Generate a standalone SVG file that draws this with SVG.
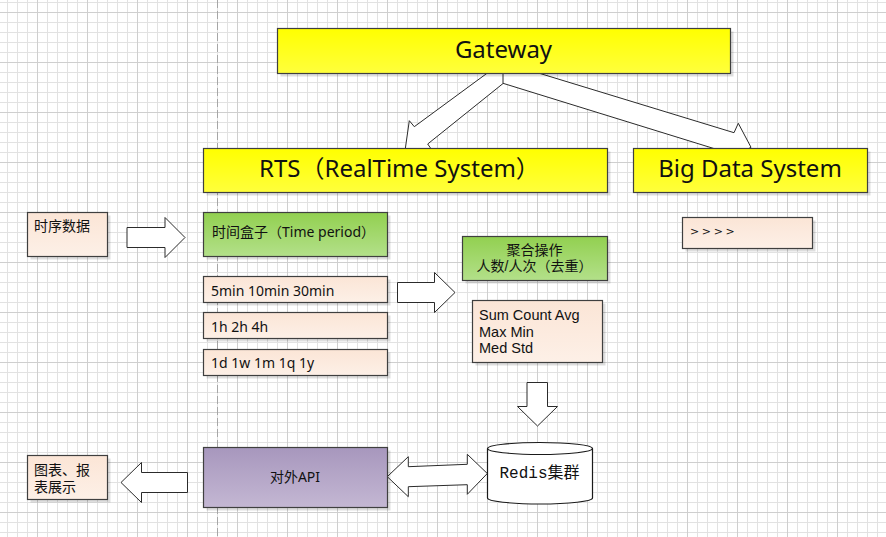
<svg xmlns="http://www.w3.org/2000/svg" width="886" height="537" viewBox="0 0 886 537">
<defs>
<pattern id="minor" x="7" y="2" width="10" height="10" patternUnits="userSpaceOnUse">
<path d="M0.5 0V10M0 0.5H10" stroke="#e2e2e2" stroke-width="1" fill="none"/>
</pattern>
<pattern id="major" x="37" y="12" width="50" height="50" patternUnits="userSpaceOnUse">
<path d="M0.5 0V50M0 0.5H50" stroke="#cfcfcf" stroke-width="1" fill="none"/>
</pattern>
<linearGradient id="gYellow" x1="0" y1="0" x2="0" y2="1"><stop offset="0" stop-color="#ffff00"/><stop offset="1" stop-color="#ffff3c"/></linearGradient>
<linearGradient id="gPeach" x1="0" y1="0" x2="0" y2="1"><stop offset="0" stop-color="#fbe5d6"/><stop offset="1" stop-color="#fdf0e7"/></linearGradient>
<linearGradient id="gGreen" x1="0" y1="0" x2="0" y2="1"><stop offset="0" stop-color="#92d050"/><stop offset="1" stop-color="#b3e08a"/></linearGradient>
<linearGradient id="gPurple" x1="0" y1="0" x2="0" y2="1"><stop offset="0" stop-color="#a797bd"/><stop offset="1" stop-color="#c4b7d3"/></linearGradient>
</defs>
<style>
.box{stroke:#3f3f3f;stroke-width:1.2}
.sh{fill:#000;opacity:0.13}
.y{fill:url(#gYellow)}
.p{fill:url(#gPeach)}
.g{fill:url(#gGreen)}
.v{fill:url(#gPurple)}
.arr{fill:#fff;stroke:#2b2b2b;stroke-width:1;stroke-linejoin:miter}
text{font-family:"Noto Sans","Noto Sans CJK SC",sans-serif;fill:#111}
.big{font-size:24px}
.s{font-size:14px}
.tight{font-family:"Liberation Sans","Noto Sans CJK SC",sans-serif}
</style>
<rect width="886" height="537" fill="#fff"/>
<rect width="886" height="537" fill="url(#minor)"/>
<rect width="886" height="537" fill="url(#major)"/>
<line x1="217.5" y1="0" x2="217.5" y2="537" stroke="#a6a6a6" stroke-width="1" stroke-dasharray="8 3"/>

<g id="connectors">
<polygon class="arr" points="505,60 486.7,73.5 414.3,126.7 409.3,120.7 405.3,148.7 433.3,152 427.7,144 503.3,83.3 520,70"/>
<polygon class="arr" points="503,62.2 734,132.7 738.3,123.3 751,147.3 726.7,160.7 729.3,153.3 503,83.3"/>
<polygon class="arr" points="127,227.5 165,227.5 165,217.5 185,237.5 165,257.5 165,247.5 127,247.5"/>
<polygon class="arr" points="397.5,282.5 434.5,282.5 434.5,272.5 455,292.5 434.5,312.5 434.5,302.5 397.5,302.5"/>
<polygon class="arr" points="527,382.5 547.5,382.5 547.5,406.5 557.5,406.5 537.5,426 517.5,406.5 527,406.5"/>
<polygon class="arr" points="121,482.5 141.5,462.5 141.5,472.5 187.5,472.5 187.5,492.5 141.5,492.5 141.5,502.5"/>
<polygon class="arr" points="387.3,476.7 408.3,456.7 408.3,466.7 467.3,464.3 467.3,454.3 487.3,473.5 467.3,494.3 467.3,484.7 408.3,486.7 408.3,496.7"/>
</g>

<g id="gateway">
<rect class="sh" x="280.5" y="31.5" width="453" height="45"/>
<rect class="box y" x="277.5" y="28.5" width="453" height="45"/>
<text class="big" x="503.5" y="58" text-anchor="middle">Gateway</text>
</g>

<g id="rts">
<rect class="sh" x="206.5" y="151.5" width="404" height="44"/>
<rect class="box y" x="203.5" y="148.5" width="404" height="44"/>
<text class="big" x="259" y="177">RTS（RealTime System）</text>
</g>

<g id="bigdata">
<rect class="sh" x="636.5" y="151.5" width="234" height="44"/>
<rect class="box y" x="633.5" y="148.5" width="234" height="44"/>
<text class="big" x="750" y="177" text-anchor="middle">Big Data System</text>
</g>

<g id="more">
<rect class="sh" x="685.5" y="220.5" width="130" height="31"/>
<rect class="box p" x="682.5" y="217.5" width="130" height="31"/>
<text x="690" y="235" style="font-family:'DejaVu Sans',sans-serif;font-size:11px" letter-spacing="2.6">&gt;&gt;&gt;&gt;</text>
</g>

<g id="tsdata">
<rect class="sh" x="30.5" y="215.5" width="80" height="44"/>
<rect class="box p" x="27.5" y="212.5" width="80" height="44"/>
<text class="s" x="34" y="231">时序数据</text>
</g>

<g id="timebox">
<rect class="sh" x="206.5" y="215.5" width="184" height="44"/>
<rect class="box g" x="203.5" y="212.5" width="184" height="44"/>
<text class="s" x="212" y="237">时间盒子（Time period）</text>
</g>

<g id="p1">
<rect class="sh" x="206.5" y="279.5" width="184" height="26"/>
<rect class="box p" x="203.5" y="276.5" width="184" height="26"/>
<text class="s" x="211" y="295.5">5min 10min 30min</text>
</g>

<g id="p2">
<rect class="sh" x="206.5" y="315.5" width="184" height="26"/>
<rect class="box p" x="203.5" y="312.5" width="184" height="26"/>
<text class="s" x="211" y="331.5">1h 2h 4h</text>
</g>

<g id="p3">
<rect class="sh" x="206.5" y="352.5" width="184" height="26"/>
<rect class="box p" x="203.5" y="349.5" width="184" height="26"/>
<text class="s" x="211" y="368">1d 1w 1m 1q 1y</text>
</g>

<g id="agg">
<rect class="sh" x="465.5" y="239.5" width="145" height="44"/>
<rect class="box g" x="462.5" y="236.5" width="145" height="44"/>
<text class="s tight" x="534.5" y="254.5" text-anchor="middle">聚合操作</text>
<text class="s tight" x="534.5" y="271" text-anchor="middle">人数/人次（去重）</text>
</g>

<g id="funcs">
<rect class="sh" x="475.5" y="303.5" width="130" height="62"/>
<rect class="box p" x="472.5" y="300.5" width="130" height="62"/>
<text class="s tight" x="479" y="320" style="font-size:14.5px">Sum Count Avg</text>
<text class="s tight" x="479" y="336.7" style="font-size:14.5px">Max Min</text>
<text class="s tight" x="479" y="353.3" style="font-size:14.5px">Med Std</text>
</g>

<g id="redis">
<path d="M487.5 448.5A52.5 6 0 0 1 592.5 448.5V498A52.5 6 0 0 1 487.5 498Z" fill="#fff" stroke="#1a1a1a" stroke-width="1.2"/>
<path d="M487.5 448.5A52.5 6 0 0 0 592.5 448.5" fill="none" stroke="#1a1a1a" stroke-width="1.2"/>
<text x="539.5" y="477.5" text-anchor="middle" style="font-size:16px"><tspan style="font-family:'Liberation Mono',monospace">Redis</tspan>集群</text>
</g>

<g id="api">
<rect class="sh" x="206.5" y="450.5" width="184" height="60"/>
<rect class="box v" x="203.5" y="447.5" width="184" height="60"/>
<text class="s" x="295" y="482" text-anchor="middle">对外API</text>
</g>

<g id="charts">
<rect class="sh" x="30.5" y="458.5" width="80" height="44"/>
<rect class="box p" x="27.5" y="455.5" width="80" height="44"/>
<text class="s tight" x="34" y="475">图表、报</text>
<text class="s tight" x="34" y="492">表展示</text>
</g>
</svg>
